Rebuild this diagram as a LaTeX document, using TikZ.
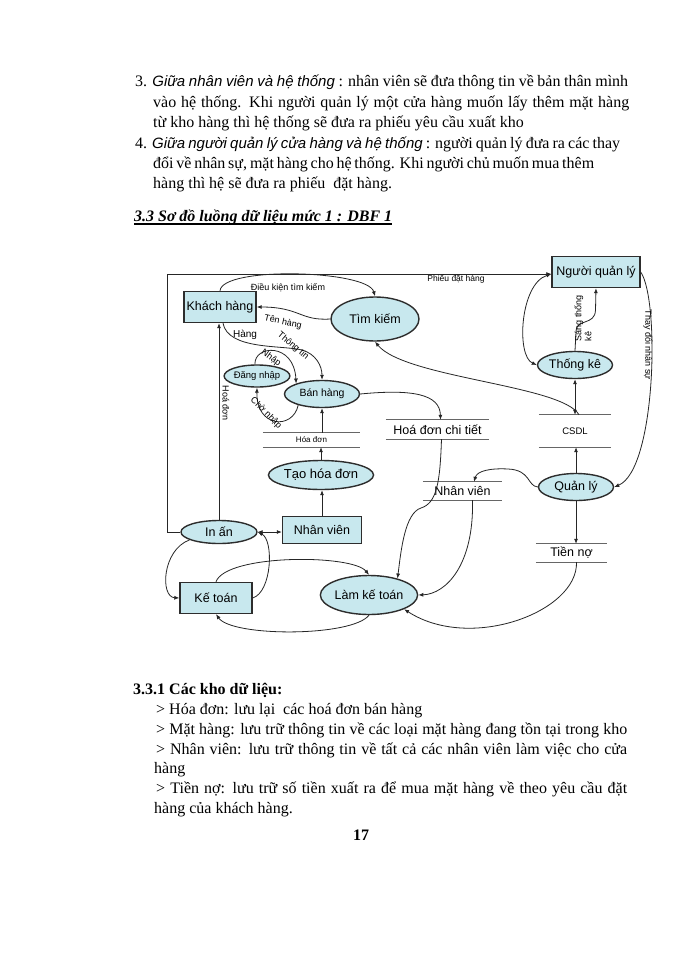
\documentclass[tikz,border=0pt]{standalone}
\usepackage{fontspec}
\setmainfont{Liberation Serif}
\newfontfamily\arialf{Liberation Sans}
\usetikzlibrary{arrows.meta,shapes.geometric}
\definecolor{boxfill}{RGB}{200,232,238}
\definecolor{edgecol}{RGB}{45,45,45}
\newcommand{\jl}[2]{\makebox[#1pt][s]{#2}}
\newcommand{\itsans}[1]{{\arialf\itshape\fontsize{15}{18}\selectfont #1}}
\begin{document}
\begin{tikzpicture}[x=1pt,y=-1pt,
  txt/.style={anchor=base west, inner sep=0pt, font=\fontsize{16}{19}\selectfont},
  proc/.style={ellipse, draw=edgecol, line width=1.4pt, fill=boxfill, inner sep=0pt, font=\arialf\fontsize{12.5}{14}\selectfont},
  ent/.style={rectangle, draw=edgecol, line width=1.4pt, fill=boxfill, inner sep=0pt, font=\arialf\fontsize{12.5}{14}\selectfont},
  store/.style={rectangle, inner sep=0pt, font=\arialf\fontsize{12.5}{14}\selectfont},
  lbl/.style={inner sep=0pt, font=\arialf\fontsize{9}{10}\selectfont},
  arr/.style={-{Latex[length=5pt,width=4pt]}, line width=0.8pt, draw=black!85},
  darr/.style={{Latex[length=5pt,width=4pt]}-{Latex[length=5pt,width=4pt]}, line width=0.8pt, draw=black!85},
  sline/.style={line width=1.2pt, draw=black!60}]
\fill[white] (0,0) rectangle (700,960);
\useasboundingbox (0,0) rectangle (700,960);

% ---------- top paragraph ----------
\node[txt] (t1) at (135,87) {\jl{493}{3. \itsans{Giữa nhân viên và hệ thống} : nhân viên sẽ đưa thông tin về bản thân mình}};
\node[txt] (t2) at (153,108) {\jl{476}{vào hệ thống. Khi người quản lý một cửa hàng muốn lấy thêm mặt hàng}};
\node[txt] (t3) at (153,128) {từ kho hàng thì hệ thống sẽ đưa ra phiếu yêu cầu xuất kho};
\node[txt] (t4) at (135,149) {\jl{485}{4. \itsans{Giữa người quản lý cửa hàng và hệ thống} : người quản lý đưa ra các thay}};
\node[txt] (t5) at (153,169) {\jl{441}{đổi về nhân sự, mặt hàng cho hệ thống. Khi người chủ muốn mua thêm}};
\node[txt] (t6) at (153,189) {hàng thì hệ sẽ đưa ra phiếu\ \ đặt hàng.};

% ---------- heading ----------
\node[txt, font=\fontsize{16}{19}\selectfont\bfseries\itshape] (h1) at (134,221) {\jl{258}{3.3 Sơ đồ luồng dữ liệu mức 1 : DBF 1}};
\draw[line width=1.3pt] (h1.south west) ++(0,-0.5) -- ++(258,0);

% ---------- diagram nodes ----------
\node[ent, minimum width=72pt, minimum height=31pt] (kh) at (220,307) {Khách hàng};
\node[proc, minimum width=88pt, minimum height=44pt] (tk) at (375,319) {Tìm kiếm};
\node[proc, minimum width=54pt, minimum height=22pt, font=\arialf\fontsize{9.5}{11}\selectfont] (dn) at (257,376) {Đăng nhập};
\node[proc, minimum width=75pt, minimum height=27pt, font=\arialf\fontsize{10.5}{12}\selectfont] (bh) at (322,394) {Bán hàng};
\node[store, minimum width=97pt, minimum height=14pt, font=\arialf\fontsize{8}{9}\selectfont] (hd) at (311.5,440) {Hóa đơn};
\node[proc, minimum width=82pt, minimum height=29pt, font=\arialf\fontsize{13}{15}\selectfont] (thd) at (321,475) {Tạo hóa đơn};
\node[ent, minimum width=79pt, minimum height=27pt] (nv) at (322,530) {Nhân viên};
\node[proc, minimum width=76pt, minimum height=23pt] (ia) at (219,532) {In ấn};
\node[ent, minimum width=72pt, minimum height=31pt] (kt) at (216,598) {Kế toán};
\node[proc, minimum width=95pt, minimum height=39pt] (lkt) at (369,595) {Làm kế toán};
\node[ent, minimum width=88pt, minimum height=31pt] (nql) at (596,272) {Người quản lý};
\node[proc, minimum width=75pt, minimum height=27pt] (tke) at (575,365) {Thống kê};
\node[store, minimum width=72pt, minimum height=32pt, font=\arialf\fontsize{9.5}{11}\selectfont] (csdl) at (575,431) {CSDL};
\node[store, minimum width=103pt, minimum height=19pt] (hdct) at (437.5,429.5) {Hoá đơn chi tiết};
\node[proc, minimum width=75pt, minimum height=27pt] (ql) at (576,487) {Quản lý};
\node[store, minimum width=79pt, minimum height=18pt] (nvs) at (462.5,491) {Nhân viên};
\node[store, minimum width=71pt, minimum height=18pt] (tn) at (571.5,553) {Tiền nợ\hspace{13pt}};

\foreach \s in {hd,csdl,hdct,nvs,tn}{
  \draw[sline] (\s.north west) -- (\s.north east);
  \draw[sline] (\s.south west) -- (\s.south east);
}

% ---------- connectors ----------
% Khach hang -> Tim kiem
\draw[arr] (kh.north) .. controls (222,266) and (368,270) .. (tk.north);
\node[lbl] (l1) at (288,288) {Điều kiện tìm kiếm};
% Tim kiem -> Khach hang
\draw[arr] (tk.west) .. controls (300,321) and (300,307) .. (kh.east);
\node[lbl, rotate=-12] (l2) at (283,322) {Tên hàng};
% Khach hang -> Ban hang
\draw[arr] ([xshift=3pt]kh.south) .. controls (228,350) and (282,345) .. (302,350) .. controls (316,354) and (322,366) .. (bh.north);
\node[lbl, font=\arialf\fontsize{10}{11}\selectfont] (l3) at (245,335) {Hàng};
\node[lbl, rotate=-40] (l4) at (293,346) {Thông tin};
% Dang nhap -> Ban hang
\draw[arr] (dn.100) .. controls (254,345) and (294,342) .. (bh.158);
\node[lbl, rotate=-35] (l5) at (271,358) {Nhập};
% Ban hang -> Dang nhap
\draw[arr] (bh.205) .. controls (293,430) and (256,428) .. (dn.south);
\node[lbl, rotate=-45] (l6) at (266,413) {Chờ nhập};
% In an -> Khach hang
\draw[arr] (ia.north) -- (ia.north |- kh.south);
\node[lbl, rotate=-90] (l7) at (226,403) {Hoá đơn};
% Tao hoa don -> Hoa don
\draw[arr] (thd.north) -- (thd.north |- hd.south);
% Hoa don -> Ban hang
\draw[arr] (bh.south |- hd.north) -- (bh.south);
% Nhan vien -> Tao hoa don
\draw[arr] (nv.north) -- (nv.north |- thd.south);
% In an <-> Nhan vien
\draw[darr] (ia.east) -- (ia.east -| nv.west);
% Phieu dat hang
\coordinate (pd) at (167,274);
\draw[arr] (ia.west) -| (pd) -- (pd -| nql.west);
\node[lbl, font=\arialf\fontsize{8.5}{10}\selectfont] (l8) at (456,279) {Phiếu đặt hàng};
% In an -> Ke toan
\draw[arr] (ia.195) .. controls (162,550) and (160,597) .. (kt.west);
% Ke toan -> In an
\draw[arr] (kt.east) .. controls (272,592) and (274,540) .. (ia.east);
% Ke toan -> Lam ke toan
\draw[arr] (kt.north) .. controls (226,554) and (352,554) .. (lkt.north);
% Lam ke toan -> Ke toan
\draw[arr] (lkt.south) .. controls (352,637) and (232,637) .. (kt.south);
% Tien no -> Lam ke toan
\draw[arr] ([xshift=5pt]tn.south) .. controls (578,612) and (470,652) .. (lkt.-22);
% Nhan vien (store) -> Lam ke toan
\draw[arr] ([xshift=10pt]nvs.south) .. controls (474,565) and (446,594) .. (lkt.east);
% Hoa don chi tiet -> Lam ke toan
\draw[arr] ([xshift=4pt]hdct.south) .. controls (440,482) and (437,503) .. (421,508) .. controls (405,513) and (401,550) .. (lkt.30);
% Quan ly -> Nhan vien (store)
\draw[arr] (ql.west) .. controls (527,486) and (531,470) .. (508,469) .. controls (490,468) and (477,471) .. ([xshift=11.5pt]nvs.north);
% Quan ly -> CSDL
\draw[arr] (ql.north) -- (ql.north |- csdl.south);
% Quan ly -> Tien no
\draw[arr] (ql.south) -- (ql.south |- tn.north);
% Nguoi quan ly -> Quan ly
\draw[arr] (nql.east) .. controls (660,300) and (656,470) .. (ql.east);
\node[lbl, rotate=-90] (l9) at (648,345) {Thay đổi nhân sự};
% Nguoi quan ly <-> Thong ke
\draw[darr] ([yshift=-2pt]nql.west) .. controls (520,284) and (516,356) .. (tke.west);
% Thong ke -> Nguoi quan ly
\coordinate (sk) at (576,332);
\draw[arr] (tke.north) -- (sk) .. controls (576,318) and (595,326) .. (595.5,310) -- (nql.south);
\node[lbl, rotate=90, align=left] (l10) at (583,318) {Sáng thống\\kê};
% Thong ke <-> CSDL
\draw[darr] (tke.south) -- (tke.south |- csdl.north);
% CSDL -> Tim kiem
\draw[arr] ([xshift=4pt]csdl.north) .. controls (562,385) and (405,378) .. (tk.south);
% Ban hang -> Hoa don chi tiet
\draw[arr] (bh.east) .. controls (412,389) and (440,394) .. ([xshift=3pt]hdct.north);

% ---------- bottom text ----------
\node[txt, font=\fontsize{16}{19}\selectfont\bfseries] (b0) at (133,694) {3.3.1 Các kho dữ liệu:};
\node[txt] (b1) at (156,714) {> Hóa đơn: lưu lại\ \ các hoá đơn bán hàng};
\node[txt] (b2) at (156,734) {\jl{471}{> Mặt hàng: lưu trữ thông tin về các loại mặt hàng đang tồn tại trong kho}};
\node[txt] (b3) at (156,754) {\jl{471}{> Nhân viên: lưu trữ thông tin về tất cả các nhân viên làm việc cho cửa}};
\node[txt] (b4) at (154,773) {hàng};
\node[txt] (b5) at (156,793) {\jl{471}{> Tiền nợ: lưu trữ số tiền xuất ra để mua mặt hàng về theo yêu cầu đặt}};
\node[txt] (b6) at (154,813) {hàng của khách hàng.};
\node[txt, font=\fontsize{16}{19}\selectfont\bfseries] (pg) at (353,840) {17};
\end{tikzpicture}
\end{document}
